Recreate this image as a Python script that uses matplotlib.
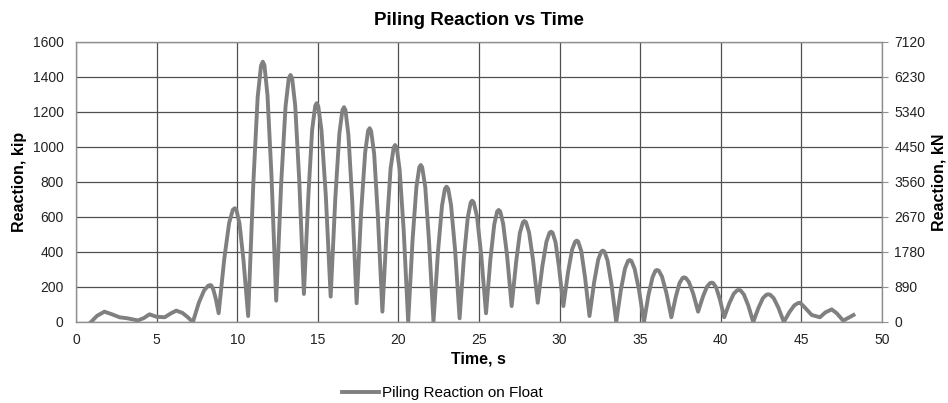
import numpy as np
import matplotlib
matplotlib.use("Agg")
import matplotlib.pyplot as plt

plt.rcParams['font.family'] = ['Liberation Sans', 'DejaVu Sans']

# data (time in s, reaction in kip)
time_s = [
    0.93, 1.3, 1.76, 2.2, 2.7, 3.2, 3.84, 4.2, 4.56, 4.98, 5.5, 5.9, 6.22, 6.6, 6.9, 7.25,
    7.62, 7.95, 8.21, 8.33, 8.39, 8.51, 8.67, 8.85,
    9.20, 9.50, 9.73, 9.85, 9.95, 10.14, 10.39, 10.68,
    11.00, 11.27, 11.48, 11.59, 11.69, 11.88, 12.13, 12.42,
    12.73, 13.00, 13.20, 13.31, 13.41, 13.60, 13.85, 14.14,
    14.42, 14.65, 14.84, 14.93, 15.03, 15.23, 15.50, 15.80,
    16.09, 16.34, 16.53, 16.63, 16.72, 16.90, 17.14, 17.41,
    17.69, 17.94, 18.12, 18.22, 18.31, 18.50, 18.73, 19.01,
    19.29, 19.52, 19.71, 19.80, 19.90, 20.08, 20.33, 20.61,
    20.88, 21.12, 21.30, 21.39, 21.48, 21.67, 21.90, 22.18,
    22.46, 22.71, 22.89, 22.99, 23.09, 23.27, 23.52, 23.80,
    24.07, 24.31, 24.49, 24.58, 24.68, 24.88, 25.14, 25.44,
    25.71, 25.95, 26.13, 26.22, 26.32, 26.50, 26.75, 27.03,
    27.31, 27.54, 27.73, 27.82, 27.92, 28.11, 28.36, 28.65,
    28.94, 29.19, 29.38, 29.48, 29.57, 29.75, 29.97, 30.24,
    30.53, 30.78, 30.97, 31.07, 31.16, 31.35, 31.58, 31.86,
    32.15, 32.40, 32.59, 32.69, 32.79, 32.98, 33.23, 33.52,
    33.81, 34.06, 34.25, 34.35, 34.46, 34.66, 34.93, 35.24,
    35.52, 35.77, 35.95, 36.05, 36.16, 36.36, 36.63, 36.94,
    37.22, 37.45, 37.64, 37.73, 37.83, 38.03, 38.30, 38.60,
    38.90, 39.15, 39.35, 39.45, 39.54, 39.72, 39.95, 40.22,
    40.54, 40.81, 41.02, 41.13, 41.24, 41.44, 41.71, 42.02,
    42.35, 42.62, 42.84, 42.95, 43.07, 43.29, 43.58, 43.92,
    44.27, 44.57, 44.80, 44.92,
    45.2, 45.65, 46.16, 46.5, 46.89, 47.2, 47.6, 47.95, 48.24,
]
reaction_kip = [
    0, 35, 59, 45, 27, 21, 9, 22, 44, 30, 27, 50, 65, 52, 30, 0,
    110, 181, 208, 211, 209, 188, 134, 50,
    362, 566, 641, 650, 641, 564, 354, 34,
    790, 1284, 1465, 1487, 1467, 1296, 832, 122,
    792, 1231, 1392, 1411, 1392, 1236, 811, 160,
    727, 1097, 1234, 1250, 1233, 1095, 720, 145,
    708, 1076, 1211, 1227, 1210, 1070, 689, 107,
    627, 967, 1092, 1107, 1091, 960, 604, 59,
    554, 878, 997, 1011, 996, 869, 526, 0,
    466, 771, 884, 897, 884, 771, 466, 0,
    402, 665, 761, 773, 762, 668, 412, 21,
    370, 599, 683, 693, 683, 603, 384, 50,
    357, 557, 631, 640, 632, 563, 376, 91,
    344, 509, 570, 577, 570, 512, 353, 110,
    321, 459, 510, 516, 510, 457, 312, 91,
    285, 413, 459, 465, 459, 405, 258, 34,
    228, 356, 402, 408, 402, 351, 212, 0,
    184, 304, 349, 354, 349, 304, 184, 0,
    154, 255, 293, 297, 293, 259, 167, 27,
    146, 223, 252, 255, 252, 228, 161, 59,
    145, 202, 223, 225, 222, 197, 130, 27,
    108, 161, 181, 183, 180, 157, 95, 0,
    82, 136, 156, 158, 156, 136, 82, 0,
    57, 95, 108, 110,
    85, 40, 27, 55, 72, 50, 8, 25, 40,
]

x_ticks = [0, 5, 10, 15, 20, 25, 30, 35, 40, 45, 50]
kip_ticks = [0, 200, 400, 600, 800, 1000, 1200, 1400, 1600]
kn_ticks = [0, 890, 1780, 2670, 3560, 4450, 5340, 6230, 7120]

fig = plt.figure(figsize=(9.48, 4.03), dpi=100)
ax = fig.add_axes([0.0802, 0.201, 0.850, 0.695])

line, = ax.plot(time_s, reaction_kip, color='#808080', lw=2.8,
                solid_joinstyle='round', label='Piling Reaction on Float')

ax.set_xlim(0, 50)
ax.set_ylim(0, 1600)
ax.set_xticks(x_ticks)
ax.set_yticks(kip_ticks)
ax.grid(True, color='#505050', lw=0.9)
ax.set_axisbelow(True)
ax.tick_params(axis='y', length=0, labelsize=10, colors='#222222', pad=9)
ax.tick_params(axis='x', length=0, labelsize=10, colors='#222222', pad=8)
for s in ax.spines.values():
    s.set_color('#909090')
    s.set_linewidth(1.0)

ax2 = ax.twinx()
ax2.set_ylim(0, 7120)
ax2.set_yticks(kn_ticks)
ax2.tick_params(length=4, width=0.8, color='#909090', labelsize=10,
                labelcolor='#222222', pad=5)
for s in ax2.spines.values():
    s.set_visible(False)

ax.set_title('Piling Reaction vs Time', fontsize=13.5, fontweight='bold', pad=12)
ax.set_xlabel('Time, s', fontsize=11.5, fontweight='bold', labelpad=3)
ax.set_ylabel('Reaction, kip', fontsize=11.5, fontweight='bold', labelpad=4)
ax2.set_ylabel('Reaction, kN', fontsize=11.5, fontweight='bold', labelpad=4)

fig.legend(handles=[line], loc='center', bbox_to_anchor=(0.467, 0.025),
           frameon=False, fontsize=11, handlelength=2.4, handletextpad=0.2)

fig.savefig('out.png', dpi=100)
